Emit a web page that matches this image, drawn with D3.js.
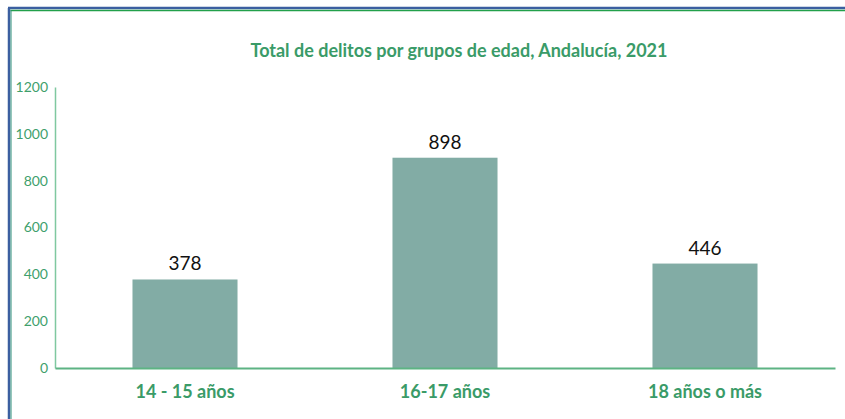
<!DOCTYPE html>
<html>
<head>
<meta charset="utf-8">
<script src="https://cdn.jsdelivr.net/npm/d3@7"></script>
<style>
  body { margin: 0; background: #fff; }
  svg { font-family: Lato, "Open Sans", sans-serif; }
</style>
</head>
<body>
<svg width="845" height="419"></svg>
<script>
// Data
const categories = ["14 - 15 años", "16-17 años", "18 años o más"];
const values = [378, 898, 446];
const yTicks = [0, 200, 400, 600, 800, 1000, 1200];

const svg = d3.select("svg");
const margin = { top: 87, right: 10, bottom: 51, left: 55 };
const width = +svg.attr("width") - margin.left - margin.right;
const height = +svg.attr("height") - margin.top - margin.bottom;

// frame lines (top and left)
svg.append("line").attr("x1", 8).attr("x2", 845).attr("y1", 8).attr("y2", 8)
  .attr("stroke", "#3b5fa0").attr("stroke-width", 2.5);
svg.append("line").attr("x1", 9).attr("x2", 9).attr("y1", 8).attr("y2", 419)
  .attr("stroke", "#3b5fa0").attr("stroke-width", 2.5);
svg.append("line").attr("x1", 10.5).attr("x2", 845).attr("y1", 10.5).attr("y2", 10.5)
  .attr("stroke", "#22a04a").attr("stroke-width", 1.5);
svg.append("line").attr("x1", 11).attr("x2", 11).attr("y1", 10).attr("y2", 419)
  .attr("stroke", "#2f8f78").attr("stroke-width", 1);

const chart = svg.append("g").attr("transform", `translate(${margin.left},${margin.top})`);

const x = d3.scaleBand()
  .domain(categories)
  .range([0, width])
  .paddingInner(0.596)
  .paddingOuter(0.298);

const y = d3.scaleLinear()
  .domain([0, 1200])
  .range([height, 0]);

// Title
svg.append("text")
  .attr("x", 459)
  .attr("y", 57)
  .attr("text-anchor", "middle")
  .attr("font-size", "18px")
  .attr("font-weight", "bold")
  .attr("fill", "#3a9b68")
  .text("Total de delitos por grupos de edad, Andalucía, 2021");

// Bars
chart.selectAll(".bar")
  .data(values)
  .join("rect")
  .attr("class", "bar")
  .attr("x", (d, i) => x(categories[i]))
  .attr("y", d => y(d))
  .attr("width", x.bandwidth())
  .attr("height", d => height - y(d))
  .attr("fill", "#82aca5");

// Value labels
chart.selectAll(".val")
  .data(values)
  .join("text")
  .attr("class", "val")
  .attr("x", (d, i) => x(categories[i]) + x.bandwidth() / 2)
  .attr("y", d => y(d) - 9)
  .attr("text-anchor", "middle")
  .attr("font-size", "19px")
  .attr("fill", "#111")
  .text(d => d);

// Y axis
const yAxis = chart.append("g")
  .call(d3.axisLeft(y).tickValues(yTicks).tickFormat(d3.format("d")).tickSize(0).tickPadding(7));
yAxis.select(".domain").attr("stroke", "#7fc8a0").attr("stroke-width", 1.5);
yAxis.selectAll(".tick text")
  .attr("font-size", "14px")
  .attr("font-family", "Lato, sans-serif")
  .attr("fill", "#3f9f6c");

// X axis
const xAxis = chart.append("g")
  .attr("transform", `translate(0,${height})`)
  .call(d3.axisBottom(x).tickSize(0).tickPadding(17));
xAxis.select(".domain").attr("stroke", "#5db383").attr("stroke-width", 2);
xAxis.selectAll(".tick text")
  .attr("font-size", "18px")
  .attr("font-weight", "bold")
  .attr("font-family", "Lato, sans-serif")
  .attr("fill", "#3a9b68");
</script>
</body>
</html>
